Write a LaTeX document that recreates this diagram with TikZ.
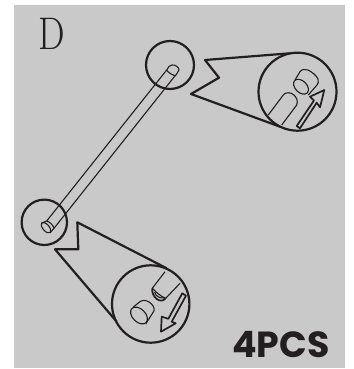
\documentclass[tikz,border=0pt]{standalone}
\usepackage{fontspec}
\newfontfamily\labelfont{Poppins}
\definecolor{panelgray}{HTML}{C9C9C9}
\definecolor{inkline}{HTML}{231F20}
\begin{document}
\begin{tikzpicture}[x=0.03cm, y=-0.03cm, line join=round, color=inkline,
  lens/.style={draw=inkline, circle, inner sep=0pt, line width=2.2*0.03cm},
  callout/.style={draw=inkline, line width=2.2*0.03cm},
  thin part/.style={draw=inkline, line width=1.1*0.03cm},
  arrow part/.style={draw=inkline, line width=1.7*0.03cm}]

  \useasboundingbox (0,0) rectangle (353,369);
  \fill[panelgray] (14,5) rectangle (345,368);

  % Labels
  \node[xscale=0.82, inner sep=0pt, font=\fontsize{39}{39}\selectfont] (panel) at (52,33.5) {D};
  \node[inner sep=0pt, font=\labelfont\bfseries\fontsize{31}{31}\selectfont] (count) at (281,345) {4PCS};

  % Rod
  \draw[thin part] (41.8,223) -- (46.7,221) -- (165.5,71.5);
  \draw[thin part] (50.2,232.7) -- (54,228.3) -- (174.5,76.5);
  \draw[thin part] (165.5,71.5) -- (166.7,70) .. controls (168,67) and (170,65) .. (172,65)
    .. controls (175,64.5) and (179,67) .. (179,70) -- (176,75) -- (174.5,76.5);
  \draw[thin part] (166.7,70.5) .. controls (169,73) and (172,75) .. (175,75.7);
  \draw[thin part] (46.7,221) .. controls (50,222) and (53,225) .. (54,228.3);
  \draw[thin part, rotate around={-50:(46,227.7)}] (46,227.7) ellipse (6.5 and 3.2);

  % Small circles
  \node[lens, minimum size=48*0.03cm] (topspot) at (170,65) {};
  \node[lens, minimum size=45.4*0.03cm] (lowspot) at (44.3,222.3) {};

  % Top callout
  \node[lens, minimum size=78*0.03cm] (toplens) at (297.5,91.7) {};
  \coordinate (topa) at (290,53.3);
  \coordinate (topb) at (280,126.7);
  \draw[callout] (topa) -- (205,60) -- (219,77.7) -- (191,94) -- (topb);

  % Top pin and peg
  \draw[thin part] (268.3,115) -- (283.3,95)
    .. controls (285,92) and (291,92) .. (294,95)
    .. controls (297,98) and (298,101) .. (296.7,105) -- (281.7,125);
  \draw[thin part, rotate around={-45:(301,86.7)}] (301,86.7) ellipse (8.8 and 5.8);
  \draw[thin part] (295,80) -- (300,71.7) .. controls (302,69) and (305,69) .. (308,70)
    .. controls (312,72) and (316,75) .. (318,79)
    .. controls (319,82) and (318,84) .. (317,85) -- (308.3,95);

  % Top arrow
  \draw[arrow part] (296.7,126) -- (314,100.5) -- (310,96.7) -- (324.3,90)
    -- (320,107.3) -- (316.7,102.7) -- (300,128.3) -- cycle;

  % Bottom callout
  \node[lens, minimum size=77.4*0.03cm] (lowlens) at (150.7,304) {};
  \coordinate (lowa) at (166.7,268.3);
  \coordinate (lowb) at (116.7,321.7);
  \draw[callout] (lowa) -- (77.3,222.3) -- (78.3,249.3) -- (55,249.3) -- (lowb);

  % Bottom tube and cap
  \draw[thin part] (165,271.7) -- (152.3,288.3);
  \draw[thin part] (180,283.3) -- (165.7,298.3);
  \draw[arrow part] (152.3,288.3) .. controls (151,296) and (160,305) .. (165.7,298.3);
  \draw[thin part] (152.3,288.3) .. controls (156,292) and (160,296) .. (165.7,298.3);
  \draw[thin part] (154.5,292) .. controls (156,297) and (160,298) .. (164,298);
  \draw[thin part, rotate around={-45:(139,315.5)}] (139,315.5) ellipse (10 and 6.5);
  \draw[thin part] (133.3,307) -- (140,301.7) .. controls (143,300) and (145,300) .. (147,301)
    .. controls (150,302) and (153,305) .. (154,308)
    .. controls (154.5,310) and (154,311) .. (153.3,312) -- (145.7,324);

  % Bottom arrow
  \draw[arrow part] (182.3,293.3) -- (186,295.7) -- (171.7,321.7) -- (175.7,323.3)
    -- (161,331.7) -- (161.7,316.7) -- (168.3,318.8) -- cycle;

\end{tikzpicture}
\end{document}
